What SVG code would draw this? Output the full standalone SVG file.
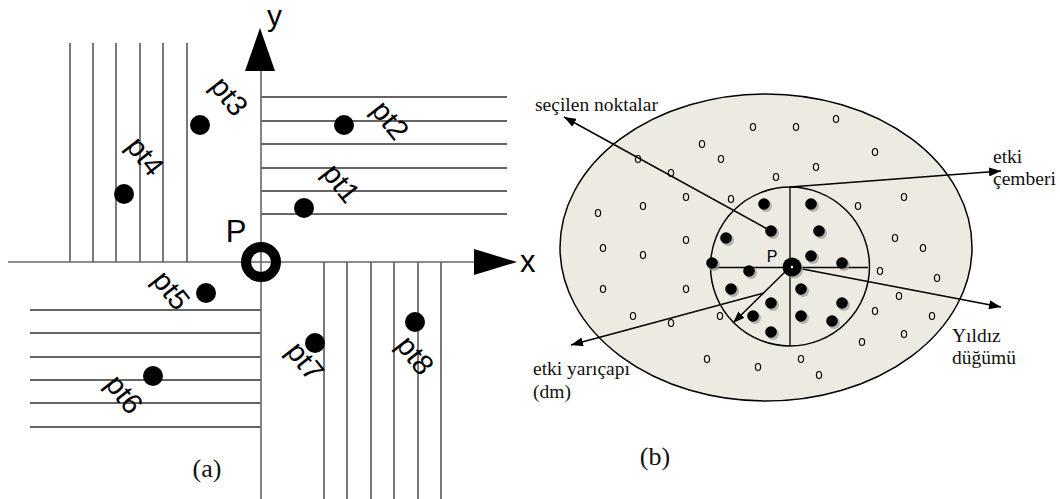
<svg xmlns="http://www.w3.org/2000/svg" width="1060" height="499" viewBox="0 0 1060 499">
<style>
.hatch{stroke:#333;stroke-width:1.3;fill:none}
.axis{stroke:#666;stroke-width:1.6;fill:none}
.sans{font-family:"Liberation Sans",Arial,sans-serif;fill:#000}
.serif{font-family:"Liberation Serif","Times New Roman",serif;fill:#111}
.pt{font-family:"Liberation Sans",Arial,sans-serif;font-size:29px;text-anchor:middle}
.dot{fill:#000}
.bdot{fill:#000}
.shadow{fill:#9a9a9a;opacity:0.7}
.odot{fill:none;stroke:#000;stroke-width:1.2}
.conn{stroke:#000;stroke-width:1.5;fill:none}
.thin{stroke:#000;stroke-width:1.3;fill:none}
</style>
<defs>
<marker id="ah" viewBox="0 0 12 9" refX="12" refY="4.5" markerWidth="12" markerHeight="9" markerUnits="userSpaceOnUse" orient="auto">
<path d="M0,0 L12,4.5 L0,9 z" fill="#000"/>
</marker>
</defs>
<rect width="1060" height="499" fill="#fff"/>

<!-- Part (a) -->
<g id="hatch-a">
<path class="hatch" d="M70,43V262 M93,43V262 M116,43V262 M140,43V262 M163,43V262 M187,43V262"/>
<path class="hatch" d="M261,97H507 M261,121H507 M261,144H507 M261,168H507 M261,191H507 M261,214H507"/>
<path class="hatch" d="M30,310H261 M30,333H261 M30,357H261 M30,380H261 M30,403H261 M30,427H261"/>
<path class="hatch" d="M324,262V499 M347,262V499 M371,262V499 M394,262V499 M418,262V499 M441,262V499"/>
</g>
<g id="axes-a">
<path class="axis" d="M261,60V499"/>
<path class="axis" d="M8,262H480"/>
<polygon points="260,28 245,71 275,71" fill="#000"/>
<polygon points="517,262 474,249 474,275" fill="#000"/>
<text class="sans" x="267" y="26" font-size="30">y</text>
<text class="sans" x="520" y="272" font-size="31">x</text>
</g>
<g id="node-P-a">
<circle cx="261" cy="262" r="15" fill="none" stroke="#000" stroke-width="10"/>
<text class="sans" x="236" y="242" font-size="31" text-anchor="middle">P</text>
</g>
<g id="pt1"><circle class="dot" cx="304" cy="208" r="10"/><text class="pt" transform="translate(339,185) rotate(52)" y="7">pt1</text></g>
<g id="pt2"><circle class="dot" cx="344" cy="125" r="10"/><text class="pt" transform="translate(388,122) rotate(52)" y="7">pt2</text></g>
<g id="pt3"><circle class="dot" cx="200" cy="125" r="10"/><text class="pt" transform="translate(227,98) rotate(52)" y="7">pt3</text></g>
<g id="pt4"><circle class="dot" cx="124" cy="194" r="10"/><text class="pt" transform="translate(143,158) rotate(52)" y="7">pt4</text></g>
<g id="pt5"><circle class="dot" cx="206" cy="293" r="10"/><text class="pt" transform="translate(169,292) rotate(52)" y="7">pt5</text></g>
<g id="pt6"><circle class="dot" cx="153" cy="376" r="10"/><text class="pt" transform="translate(122,396) rotate(52)" y="7">pt6</text></g>
<g id="pt7"><circle class="dot" cx="315" cy="343" r="10"/><text class="pt" transform="translate(303,363) rotate(52)" y="7">pt7</text></g>
<g id="pt8"><circle class="dot" cx="415" cy="322" r="10"/><text class="pt" transform="translate(413,357) rotate(52)" y="7">pt8</text></g>
<text class="serif" x="207" y="477" font-size="26" text-anchor="middle">(a)</text>

<!-- Part (b) -->
<g id="region-b">
<ellipse cx="766" cy="247.5" rx="206" ry="153.5" fill="#EDEBE1" stroke="#000" stroke-width="1.5"/>
</g>
<g id="open-points">
<ellipse class="odot" cx="753" cy="127" rx="2.6" ry="3.5"/>
<ellipse class="odot" cx="796" cy="127" rx="2.6" ry="3.5"/>
<ellipse class="odot" cx="836" cy="119" rx="2.6" ry="3.5"/>
<ellipse class="odot" cx="702" cy="144" rx="2.6" ry="3.5"/>
<ellipse class="odot" cx="721" cy="159" rx="2.6" ry="3.5"/>
<ellipse class="odot" cx="875" cy="152" rx="2.6" ry="3.5"/>
<ellipse class="odot" cx="638" cy="159" rx="2.6" ry="3.5"/>
<ellipse class="odot" cx="671" cy="173" rx="2.6" ry="3.5"/>
<ellipse class="odot" cx="816" cy="167" rx="2.6" ry="3.5"/>
<ellipse class="odot" cx="776" cy="177" rx="2.6" ry="3.5"/>
<ellipse class="odot" cx="686" cy="197" rx="2.6" ry="3.5"/>
<ellipse class="odot" cx="731" cy="199" rx="2.6" ry="3.5"/>
<ellipse class="odot" cx="643" cy="206" rx="2.6" ry="3.5"/>
<ellipse class="odot" cx="598" cy="213" rx="2.6" ry="3.5"/>
<ellipse class="odot" cx="858" cy="206" rx="2.6" ry="3.5"/>
<ellipse class="odot" cx="904" cy="197" rx="2.6" ry="3.5"/>
<ellipse class="odot" cx="686" cy="240" rx="2.6" ry="3.5"/>
<ellipse class="odot" cx="603" cy="248" rx="2.6" ry="3.5"/>
<ellipse class="odot" cx="643" cy="255" rx="2.6" ry="3.5"/>
<ellipse class="odot" cx="895" cy="238" rx="2.6" ry="3.5"/>
<ellipse class="odot" cx="923" cy="248" rx="2.6" ry="3.5"/>
<ellipse class="odot" cx="880" cy="271" rx="2.6" ry="3.5"/>
<ellipse class="odot" cx="937" cy="278" rx="2.6" ry="3.5"/>
<ellipse class="odot" cx="603" cy="289" rx="2.6" ry="3.5"/>
<ellipse class="odot" cx="686" cy="289" rx="2.6" ry="3.5"/>
<ellipse class="odot" cx="899" cy="296" rx="2.6" ry="3.5"/>
<ellipse class="odot" cx="633" cy="316" rx="2.6" ry="3.5"/>
<ellipse class="odot" cx="671" cy="323" rx="2.6" ry="3.5"/>
<ellipse class="odot" cx="720" cy="316" rx="2.6" ry="3.5"/>
<ellipse class="odot" cx="875" cy="311" rx="2.6" ry="3.5"/>
<ellipse class="odot" cx="932" cy="316" rx="2.6" ry="3.5"/>
<ellipse class="odot" cx="904" cy="334" rx="2.6" ry="3.5"/>
<ellipse class="odot" cx="862" cy="342" rx="2.6" ry="3.5"/>
<ellipse class="odot" cx="707" cy="359" rx="2.6" ry="3.5"/>
<ellipse class="odot" cx="758" cy="367" rx="2.6" ry="3.5"/>
<ellipse class="odot" cx="801" cy="359" rx="2.6" ry="3.5"/>
<ellipse class="odot" cx="819" cy="375" rx="2.6" ry="3.5"/>
</g>
<g id="influence-circle">
<circle cx="790" cy="266.5" r="79.5" fill="none" stroke="#000" stroke-width="1.5"/>
<path class="thin" d="M790,187V346 M711,267.5H868"/>
</g>
<g id="selected-points">
<g class="shadow">
<circle cx="766" cy="206" r="6"/><circle cx="773" cy="233" r="6"/><circle cx="728" cy="240" r="6"/><circle cx="714" cy="265" r="6"/><circle cx="751" cy="273" r="6"/><circle cx="813" cy="206" r="6"/><circle cx="821" cy="233" r="6"/><circle cx="813" cy="258" r="6"/><circle cx="844" cy="265" r="6"/><circle cx="733" cy="291" r="6"/><circle cx="773" cy="305" r="6"/><circle cx="755" cy="318" r="6"/><circle cx="773" cy="334" r="6"/><circle cx="803" cy="291" r="6"/><circle cx="803" cy="318" r="6"/><circle cx="844" cy="305" r="6"/><circle cx="834" cy="323" r="6"/>
</g>
<g class="bdot">
<circle cx="764" cy="204" r="5.8"/><circle cx="771" cy="231" r="5.8"/><circle cx="726" cy="238" r="5.8"/><circle cx="712" cy="263" r="5.8"/><circle cx="749" cy="271" r="5.8"/><circle cx="811" cy="204" r="5.8"/><circle cx="819" cy="231" r="5.8"/><circle cx="811" cy="256" r="5.8"/><circle cx="842" cy="263" r="5.8"/><circle cx="731" cy="289" r="5.8"/><circle cx="771" cy="303" r="5.8"/><circle cx="753" cy="316" r="5.8"/><circle cx="771" cy="332" r="5.8"/><circle cx="801" cy="289" r="5.8"/><circle cx="801" cy="316" r="5.8"/><circle cx="842" cy="303" r="5.8"/><circle cx="832" cy="321" r="5.8"/>
</g>
</g>
<g id="connectors">
<path class="conn" d="M771,231 L564,117" marker-end="url(#ah)"/>
<path class="conn" d="M790,187 L1001,171" marker-end="url(#ah)"/>
<path class="conn" d="M792,267 L1001,307" marker-end="url(#ah)"/>
<path class="conn" d="M790,267 L733,323" marker-end="url(#ah)"/>
<path class="conn" d="M764,293 L571,345" marker-end="url(#ah)"/>
</g>
<g id="node-P-b">
<circle cx="794" cy="269" r="9.5" fill="#9a9a9a" opacity="0.7"/>
<circle cx="792" cy="267" r="9.5" fill="#000"/>
<circle cx="792" cy="267" r="1.2" fill="#fff"/>
<text class="sans" x="772" y="262" font-size="16" text-anchor="middle">P</text>
</g>
<g id="labels-b">
<text class="serif" x="535" y="111" font-size="19.5">seçilen noktalar</text>
<text class="serif" x="993" y="163" font-size="19.5">etki</text>
<text class="serif" x="993" y="185" font-size="19.5">çemberi</text>
<text class="serif" x="952" y="342" font-size="19.5">Yıldız</text>
<text class="serif" x="952" y="364" font-size="19.5">düğümü</text>
<text class="serif" x="533" y="375" font-size="19.5">etki yarıçapı</text>
<text class="serif" x="533" y="398" font-size="19.5">(dm)</text>
<text class="serif" x="655" y="465" font-size="26" text-anchor="middle">(b)</text>
</g>
</svg>
